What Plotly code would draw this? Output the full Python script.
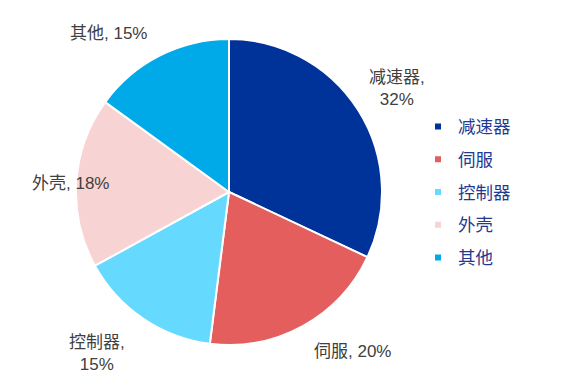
import plotly.graph_objects as go

categories = ["减速器", "伺服", "控制器", "外壳", "其他"]
shares = [32, 20, 15, 18, 15]
colors = ["#003399", "#E45E5E", "#66D9FF", "#F8D3D3", "#00AAE8"]
label_texts = ["减速器,<br>32%", "伺服, 20%", "控制器,<br>15%", "外壳, 18%", "其他, 15%"]
# label centres in pixels (x, y from top)
label_px = [(397, 89), (352, 351), (97, 353), (70, 183), (108, 33)]

W, H = 581, 390
font_fam = "Liberation Sans, Arial, Noto Sans CJK SC, sans-serif"

fig = go.Figure()
cx, cy, r = 229, 192, 153
fig.add_trace(go.Pie(
    labels=categories, values=shares, sort=False, direction="clockwise",
    rotation=0, marker=dict(colors=colors, line=dict(color="white", width=2)),
    textinfo="none", showlegend=False, hoverinfo="label+percent",
    domain=dict(x=[(cx - r) / W, (cx + r) / W], y=[1 - (cy + r) / H, 1 - (cy - r) / H]),
))
for c, col in zip(categories, colors):
    fig.add_trace(go.Scatter(
        x=[None], y=[None], mode="markers", name=c, legendgroup=c,
        marker=dict(symbol="square", size=6, color=col),
    ))

for t, (px, py) in zip(label_texts, label_px):
    fig.add_annotation(x=px / W, y=1 - py / H, xref="paper", yref="paper",
                       xanchor="center", yanchor="middle",
                       text=t, showarrow=False,
                       font=dict(family=font_fam, size=17, color="#404040"))

fig.update_layout(
    width=W, height=H, margin=dict(l=0, r=0, t=0, b=0, autoexpand=False),
    paper_bgcolor="white", plot_bgcolor="white",
    xaxis=dict(visible=False), yaxis=dict(visible=False),
    legend=dict(x=418 / W, y=1 - 192 / H, xanchor="left", yanchor="middle",
                font=dict(family=font_fam, size=17.5, color="#1F3A93"),
                itemwidth=30, tracegroupgap=7),
    showlegend=True,
)
fig.write_html("out.html", config={"displayModeBar": False},
               post_script="document.body.style.margin='0';")
